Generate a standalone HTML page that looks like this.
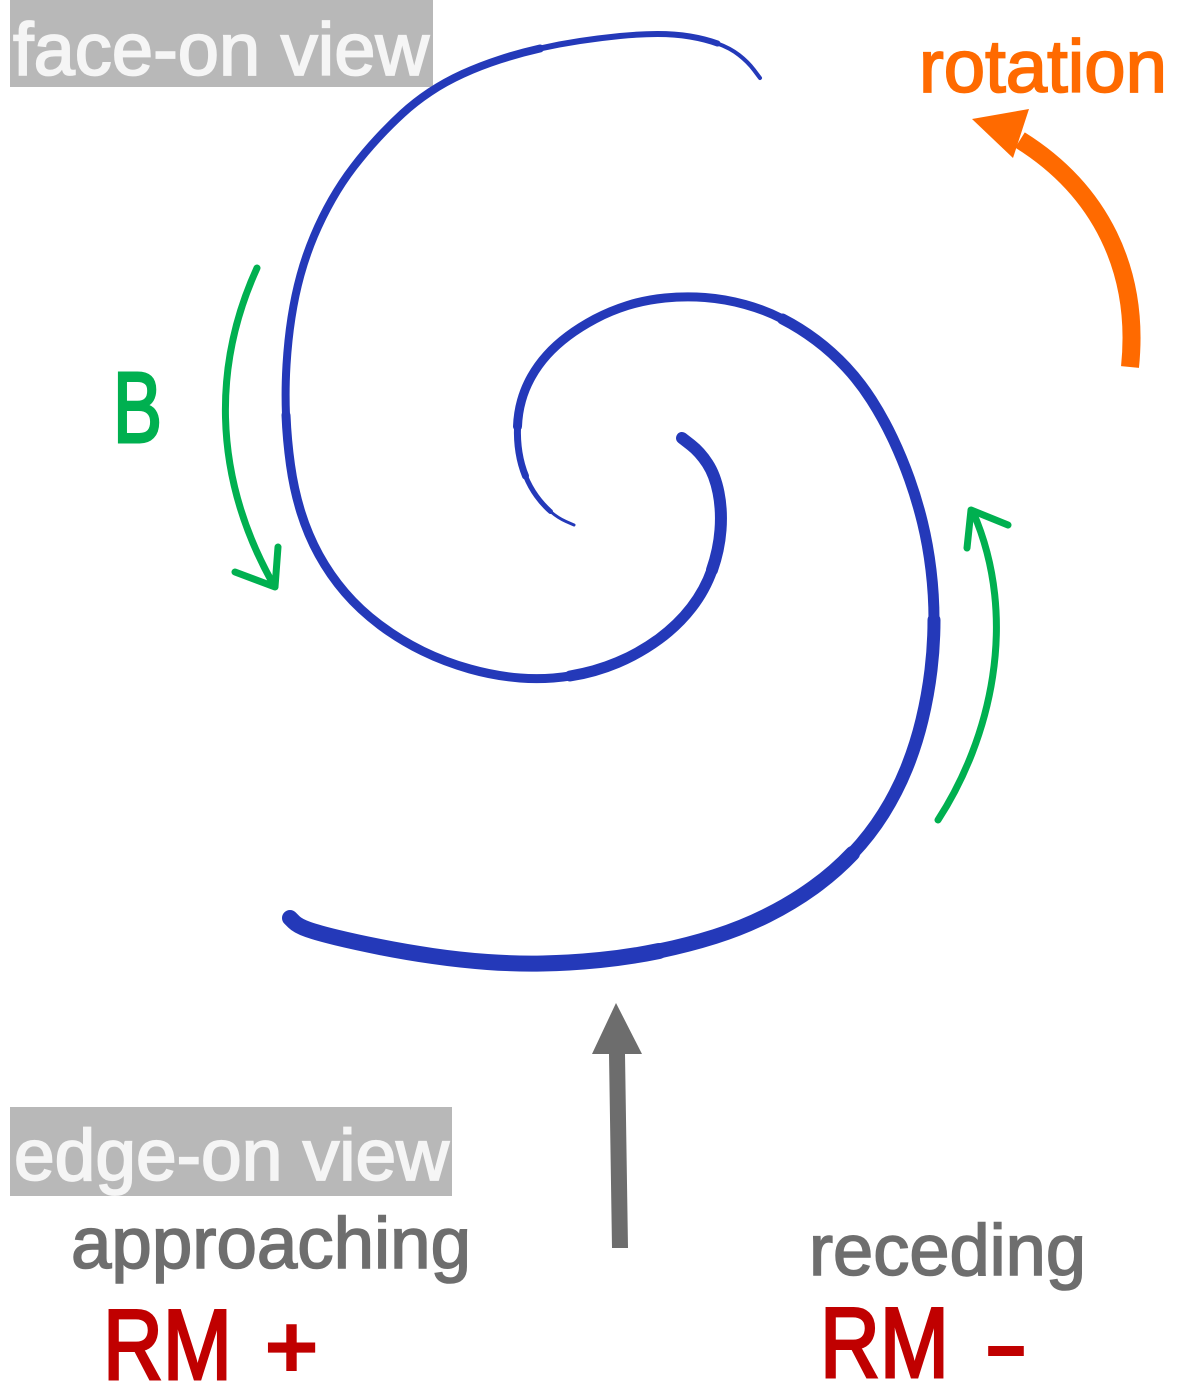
<!DOCTYPE html>
<html>
<head>
<meta charset="utf-8">
<style>
  html, body { margin: 0; padding: 0; background: #ffffff; }
  body { width: 1200px; height: 1387px; overflow: hidden; }
  svg { display: block; }
  text { font-family: "Liberation Sans", "DejaVu Sans", sans-serif; }
</style>
</head>
<body>
<svg width="1200" height="1387" viewBox="0 0 1200 1387" xmlns="http://www.w3.org/2000/svg">
  <rect x="0" y="0" width="1200" height="1387" fill="#ffffff"/>

  <!-- face-on view label -->
  <rect x="10" y="0" width="423" height="87" fill="#b8b8b8"/>
  <text x="13" y="75" font-size="74" fill="#f5f5f5" stroke="#f5f5f5" stroke-width="1.8" textLength="416" lengthAdjust="spacingAndGlyphs">face-on view</text>

  <!-- rotation label + arrow -->
  <text x="919" y="92" font-size="74" fill="#ff6a00" stroke="#ff6a00" stroke-width="1.8" textLength="248" lengthAdjust="spacingAndGlyphs">rotation</text>
  <path d="M1130,367 C1140,270 1100,190 1020,140" fill="none" stroke="#ff6a00" stroke-width="18"/>
  <polygon points="972,119 1029,109 1013,158" fill="#ff6a00"/>

  <!-- B label -->
  <text x="113" y="442" font-size="100" fill="#00b050" stroke="#00b050" stroke-width="3" textLength="49" lengthAdjust="spacingAndGlyphs">B</text>

  <!-- green field arrows -->
  <g fill="none" stroke="#00b050" stroke-width="7" stroke-linecap="round" stroke-linejoin="round">
    <path d="M257,268 C215,360 210,470 272,582"/>
    <polyline points="235,572 275,587 278,547"/>
    <path d="M938,820 C990,740 1020,620 973,512"/>
    <polyline points="967,548 971,510 1008,525"/>
  </g>

  <!-- spiral arms -->
  <g fill="none" stroke="#2439b9" stroke-linecap="round" stroke-linejoin="round">
    <!-- arm 1 -->
    <path stroke-width="4" d="M760,78 L754,70 Q748,62 739,55 Q730,48 717.5,43.5"/>
    <path stroke-width="6" d="M717.5,43.5 Q705,39 690,36.5 Q675,34 657.5,34 Q640,34 620,36 Q600,38 580,41 Q560,44 540,48.5"/>
    <path stroke-width="8" d="M540,48.5 Q520,53 500,59.5 Q480,66 462.5,74 Q445,82 430,92 Q415,102 402.5,113.5 Q390,125 377.5,138.5 Q365,152 353.5,167 Q342,182 332,199.5 Q322,217 314,236 Q306,255 300.5,275 Q295,295 291.5,317.5 Q288,340 286.5,365 Q285,390 286,415"/>
    <path stroke-width="9" d="M286,415 Q287,440 290.5,465 Q294,490 301,512.5 Q308,535 319,555 Q330,575 345,592.5 Q360,610 380,625 Q400,640 422.5,651 Q445,662 470,669 Q495,676 520,678 Q545,680 570,676"/>
    <path stroke-width="11" d="M570,676 Q595,672 617.5,662.5 Q640,653 659,639 Q678,625 691.5,607.5 Q705,590 712,570"/>
    <path stroke-width="12" d="M712,570 Q719,550 720.5,530 Q722,510 718.5,492.5 Q715,475 707.5,463.5 Q700,452 691,445 L682,438"/>

    <!-- arm 2 -->
    <path stroke-width="3" d="M574,525 L566,521.5 Q558,518 550.5,511.5"/>
    <path stroke-width="5" d="M550.5,511.5 Q543,505 536.5,496 Q530,487 525.5,476"/>
    <path stroke-width="7" d="M525.5,476 Q521,465 519,452.5 Q517,440 517.5,426.5"/>
    <path stroke-width="9" d="M517.5,426.5 Q518,413 521.5,400.5 Q525,388 531.5,376.5 Q538,365 547,355 Q556,345 568,336 Q580,327 595,319 Q610,311 627.5,305.5 Q645,300 665,298 Q685,296 705,297.5 Q725,299 745,304.5 Q765,310 782.5,319"/>
    <path stroke-width="11" d="M782.5,319 Q800,328 816,340 Q832,352 846,367 Q860,382 871.5,400 Q883,418 892.5,438 Q902,458 909.5,479 Q917,500 922.5,522.5 Q928,545 931,570 Q934,595 934,620"/>
    <path stroke-width="13" d="M934,620 Q934,645 931,670 Q928,695 922,720 Q916,745 906.5,768.5 Q897,792 883.5,813.5 Q870,835 852.5,853.5"/>
    <path stroke-width="15" d="M852.5,853.5 Q835,872 813.5,887.5 Q792,903 767,915.5 Q742,928 715,936.5 Q688,945 659,951"/>
    <path stroke-width="16" d="M659,951 Q630,957 600,960 Q570,963 542.5,963.5 Q515,964 487.5,962 Q460,960 432.5,956 Q405,952 380,947 Q355,942 336.5,937.5 Q318,933 308,929.5 Q298,926 294,922 L290,918"/>
  </g>

  <!-- gray line-of-sight arrow -->
  <polygon points="616,1003 642,1054 625,1054 628,1248 612,1248 609,1054 592,1054" fill="#6d6d6d"/>

  <!-- edge-on view label -->
  <rect x="10" y="1107" width="442" height="89" fill="#b8b8b8"/>
  <text x="14" y="1180" font-size="72" fill="#f5f5f5" stroke="#f5f5f5" stroke-width="1.8" textLength="435" lengthAdjust="spacingAndGlyphs">edge-on view</text>

  <!-- approaching / receding -->
  <text x="71" y="1268" font-size="72" fill="#6e6e6e" stroke="#6e6e6e" stroke-width="1.6" textLength="400" lengthAdjust="spacingAndGlyphs">approaching</text>
  <text x="809" y="1275" font-size="72" fill="#6e6e6e" stroke="#6e6e6e" stroke-width="1.6" textLength="277" lengthAdjust="spacingAndGlyphs">receding</text>

  <!-- RM labels -->
  <text x="103" y="1379" font-size="99" fill="#c00000" stroke="#c00000" stroke-width="3" textLength="129" lengthAdjust="spacingAndGlyphs">RM</text>
  <text x="264" y="1378" font-size="92" font-weight="bold" fill="#c00000" textLength="55" lengthAdjust="spacingAndGlyphs">+</text>
  <text x="820" y="1377" font-size="99" fill="#c00000" stroke="#c00000" stroke-width="3" textLength="129" lengthAdjust="spacingAndGlyphs">RM</text>
  <text x="986" y="1378" font-size="100" font-weight="bold" fill="#c00000" textLength="40" lengthAdjust="spacingAndGlyphs">–</text>
</svg>
</body>
</html>
